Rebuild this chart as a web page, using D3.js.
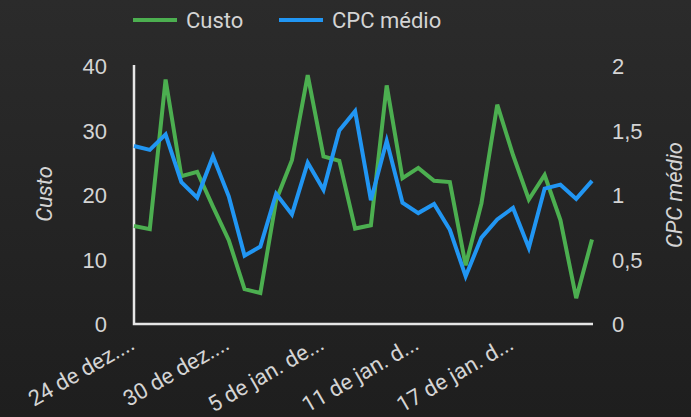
<!DOCTYPE html>
<html>
<head>
<meta charset="utf-8">
<script src="https://cdn.jsdelivr.net/npm/d3@7"></script>
<style>
  html, body { margin: 0; padding: 0; background: #222; }
  svg { display: block; font-family: Roboto, "Noto Sans", sans-serif; }
</style>
</head>
<body>
<div id="chart"></div>
<script>
// daily data, 24 dez -> 22 jan
var dias = ["24 de dez....","25 de dez.","26 de dez.","27 de dez.","28 de dez.","29 de dez.",
            "30 de dez....","31 de dez.","1 de jan.","2 de jan.","3 de jan.","4 de jan.",
            "5 de jan. de...","6 de jan.","7 de jan.","8 de jan.","9 de jan.","10 de jan.",
            "11 de jan. d...","12 de jan.","13 de jan.","14 de jan.","15 de jan.","16 de jan.",
            "17 de jan. d...","18 de jan.","19 de jan.","20 de jan.","21 de jan.","22 de jan."];
var custo = [15.2,14.7,37.9,22.9,23.6,18.2,13.0,5.4,4.8,19.2,
             25.4,38.6,26.0,25.3,14.8,15.3,37.0,22.6,24.2,22.2,
             22.0,9.1,18.7,34.0,26.2,19.3,23.1,16.1,4.0,13.1];
var cpc = [1.38,1.35,1.47,1.10,0.98,1.30,0.99,0.53,0.60,1.01,
           0.85,1.25,1.04,1.50,1.65,0.96,1.42,0.94,0.86,0.93,
           0.73,0.37,0.67,0.81,0.90,0.59,1.05,1.08,0.97,1.11];
var tickDias = [0, 6, 12, 18, 24];
var custoTicks = [0, 10, 20, 30, 40];
var cpcTicks = [0, 0.5, 1, 1.5, 2];

var W = 691, H = 417;
var verde = "#4caf50", azul = "#2196f3", texto = "#d4d4d4";

var svg = d3.select("#chart").append("svg")
    .attr("width", W).attr("height", H);

var grad = svg.append("defs").append("linearGradient")
    .attr("id", "bg").attr("x1", 0).attr("y1", 0).attr("x2", 0).attr("y2", 1);
grad.append("stop").attr("offset", "0%").attr("stop-color", "#2b2b2b");
grad.append("stop").attr("offset", "100%").attr("stop-color", "#1e1e1e");
svg.append("rect").attr("width", W).attr("height", H).attr("fill", "url(#bg)");

var x = d3.scalePoint().domain(d3.range(dias.length)).range([134, 592]);
var yL = d3.scaleLinear().domain([0, 40]).range([324, 66]);
var yR = d3.scaleLinear().domain([0, 2]).range([324, 66]);

var fmt = function(d){ return String(d).replace(".", ","); };

// left axis
var axL = d3.axisLeft(yL).tickValues(custoTicks).tickSize(0).tickPadding(27);
var gL = svg.append("g").attr("transform", "translate(134,0)").call(axL);
gL.select(".domain").remove();
gL.selectAll("text").attr("fill", texto).style("font-size", "22px").attr("dy", "0.36em");

// right axis
var axR = d3.axisRight(yR).tickValues(cpcTicks).tickSize(0).tickPadding(20).tickFormat(fmt);
var gR = svg.append("g").attr("transform", "translate(592,0)").call(axR);
gR.select(".domain").remove();
gR.selectAll("text").attr("fill", texto).style("font-size", "22px").attr("dy", "0.36em");

// x labels, every 6th day
svg.append("g").selectAll("text")
    .data(tickDias).enter().append("text")
    .attr("transform", function(d){ return "translate(" + (x(d) + 2) + ",348) rotate(-30)"; })
    .attr("text-anchor", "end")
    .attr("fill", texto)
    .style("font-size", "22px")
    .text(function(d){ return dias[d]; });

// axis lines
svg.append("path")
    .attr("d", "M134,65V324H593")
    .attr("fill", "none").attr("stroke", "#e6e6e6").attr("stroke-width", 2.5);

// lines
var lineC = d3.line().x(function(d, i){ return x(i); }).y(function(d){ return yL(d); });
var lineP = d3.line().x(function(d, i){ return x(i); }).y(function(d){ return yR(d); });

svg.append("path").datum(custo).attr("d", lineC)
    .attr("fill", "none").attr("stroke", verde).attr("stroke-width", 4)
    .attr("stroke-linejoin", "miter");
svg.append("path").datum(cpc).attr("d", lineP)
    .attr("fill", "none").attr("stroke", azul).attr("stroke-width", 4)
    .attr("stroke-linejoin", "miter");

// axis titles
svg.append("text")
    .attr("transform", "translate(52,194) rotate(-90)")
    .attr("text-anchor", "middle").attr("fill", texto)
    .style("font-size", "22px").style("font-style", "italic")
    .text("Custo");
svg.append("text")
    .attr("transform", "translate(682,195) rotate(-90)")
    .attr("text-anchor", "middle").attr("fill", texto)
    .style("font-size", "22px").style("font-style", "italic")
    .text("CPC médio");

// legend
var legenda = [{nome: "Custo", cor: verde, x: 133}, {nome: "CPC médio", cor: azul, x: 279}];
var lg = svg.append("g").selectAll("g").data(legenda).enter().append("g")
    .attr("transform", function(d){ return "translate(" + d.x + ",20)"; });
lg.append("line").attr("x1", 0).attr("x2", 44).attr("y1", 0).attr("y2", 0)
    .attr("stroke", function(d){ return d.cor; }).attr("stroke-width", 4);
lg.append("text").attr("x", 53).attr("y", 8)
    .attr("fill", texto).style("font-size", "22px")
    .text(function(d){ return d.nome; });
</script>
</body>
</html>
